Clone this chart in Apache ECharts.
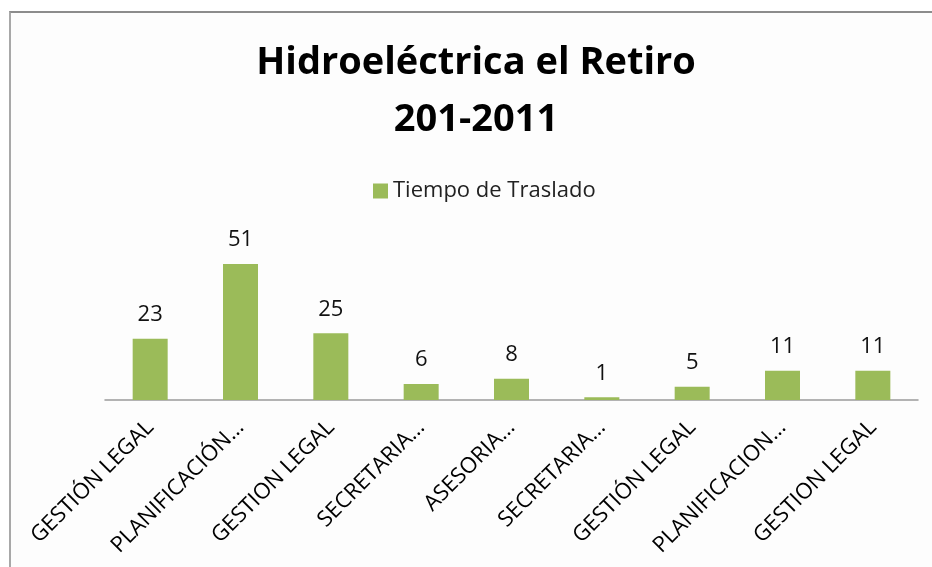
<!DOCTYPE html>
<html>
<head>
<meta charset="utf-8">
<script src="https://cdn.jsdelivr.net/npm/echarts@6/dist/echarts.min.js"></script>
<style>
  html, body { margin: 0; padding: 0; background: #fff; overflow: hidden; }
  .box {
    position: relative;
    width: 932px;
    height: 567px;
    overflow: hidden;
  }
  /* marco gris del gráfico (solo arriba e izquierda visibles) */
  .frame {
    position: absolute;
    left: 9px;
    top: 11px;
    width: 923px;
    height: 556px;
    border-top: 2px solid #8c8c8c;
    border-left: 2px solid #a8a8a8;
    background: #fdfdfd;
  }
  /* el gráfico original está recortado a la derecha */
  .charts {
    position: absolute;
    left: 0;
    top: 0;
    width: 952px;
    height: 567px;
  }
</style>
</head>
<body>
<div class="box">
  <div class="frame"></div>
  <!-- contenedor del gráfico -->
  <div class="charts" id="charts"></div>
</div>
<script>
// categorías del eje x
const categories = [
  'GESTIÓN LEGAL',
  'PLANIFICACIÓN…',
  'GESTION LEGAL',
  'SECRETARIA…',
  'ASESORIA…',
  'SECRETARIA…',
  'GESTIÓN LEGAL',
  'PLANIFICACION…',
  'GESTION LEGAL'
]
// valores de la serie
const tiempoTraslado = [23, 51, 25, 6, 8, 1, 5, 11, 11]

const font = '"Open Sans", "Noto Sans", sans-serif'

let myChart = echarts.init(document.getElementById('charts'))
myChart.setOption({
  backgroundColor: 'transparent',
  title: {
    text: 'Hidroeléctrica el Retiro\n201-2011',
    left: 'center',
    top: 30,
    textStyle: {
      color: '#000',
      fontSize: 38,
      fontWeight: 'bold',
      fontFamily: font,
      lineHeight: 57,
    },
  },
  legend: {
    top: 175,
    left: 368,
    itemWidth: 15,
    itemHeight: 15,
    itemGap: 6,
    icon: 'rect',
    textStyle: {
      color: '#222',
      fontSize: 22,
      fontFamily: font,
    },
    data: ['Tiempo de Traslado'],
  },
  grid: {
    left: 105,
    right: 34,
    top: 240,
    bottom: 167,
  },
  xAxis: {
    type: 'category',
    data: categories,
    axisLine: { lineStyle: { color: '#9a9a9a', width: 1.5 } },
    axisTick: { show: false },
    axisLabel: {
      interval: 0,
      rotate: 45,
      margin: 24,
      color: '#000',
      fontSize: 22,
      fontFamily: font,
    },
  },
  yAxis: {
    type: 'value',
    min: 0,
    max: 60,
    show: false,
    splitLine: { show: false },
  },
  series: [
    {
      name: 'Tiempo de Traslado',
      type: 'bar',
      data: tiempoTraslado,
      barWidth: 35,
      itemStyle: {
        color: '#9bbb59',
      },
      label: {
        show: true,
        position: 'top',
        distance: 13,
        color: '#111',
        fontSize: 22,
        fontFamily: font,
      },
    },
  ],
  animation: false,
})
</script>
</body>
</html>
